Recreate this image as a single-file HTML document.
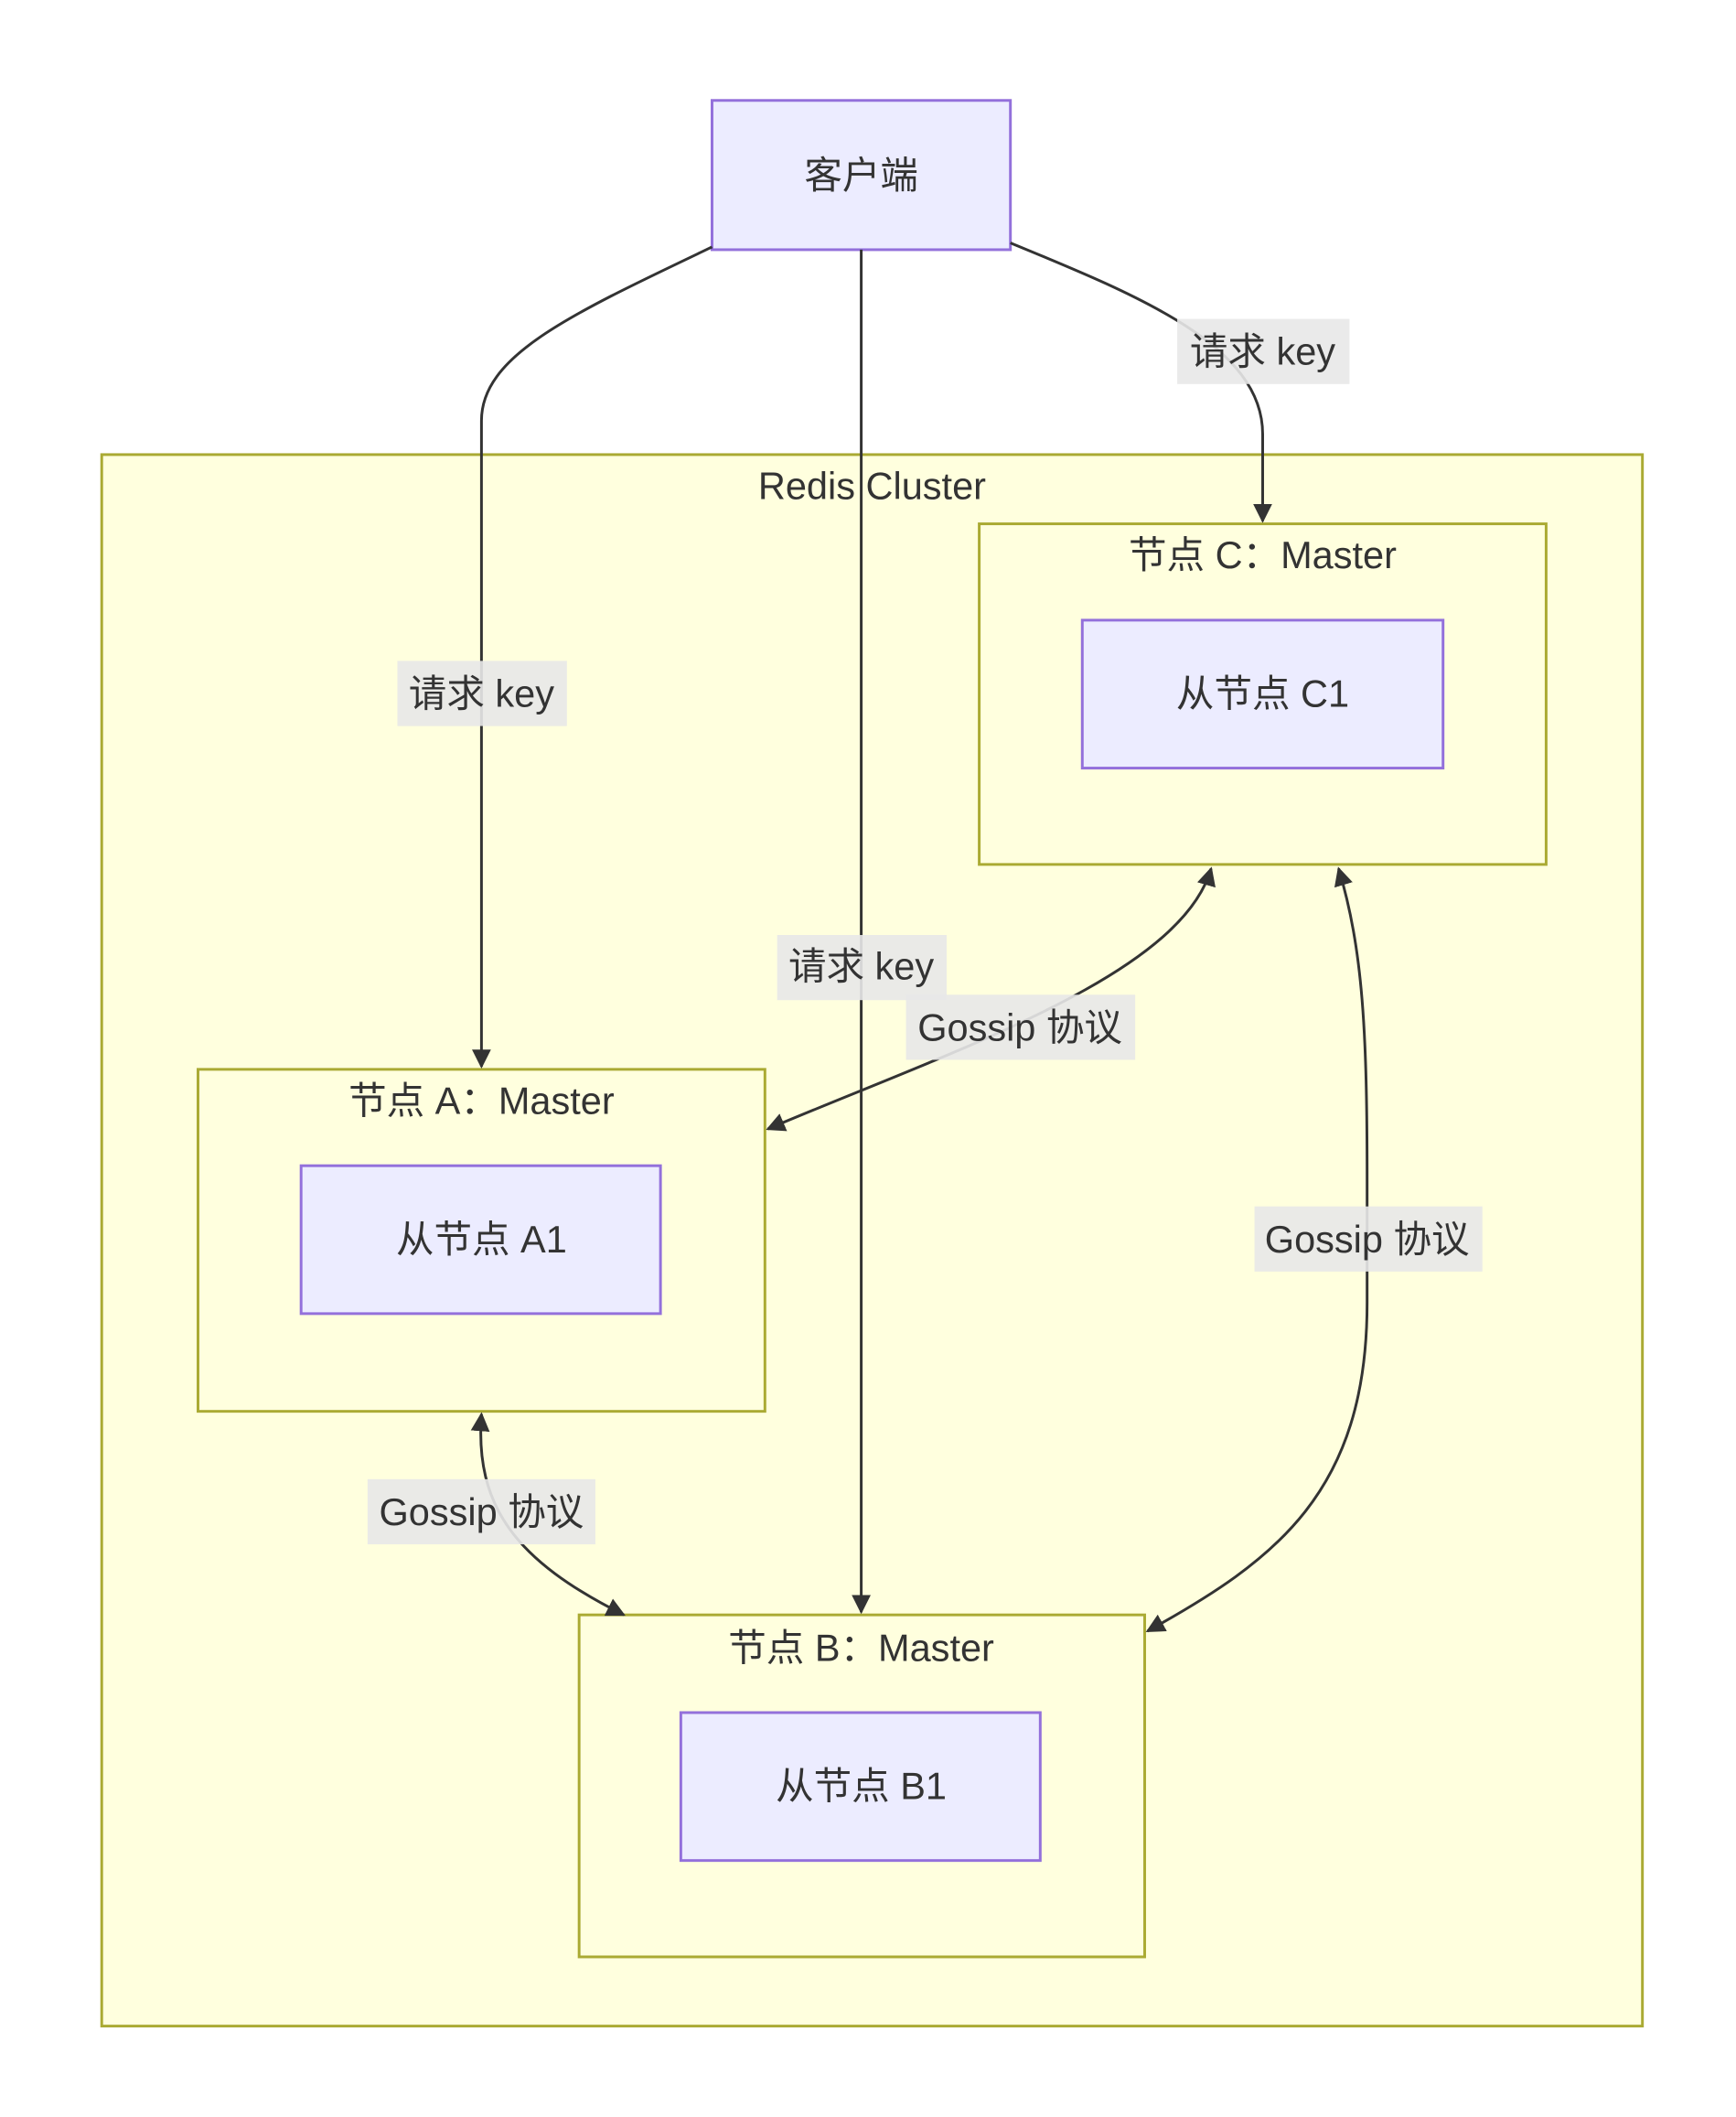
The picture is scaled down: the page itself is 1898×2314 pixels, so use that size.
<!DOCTYPE html>
<html><head><meta charset="utf-8"><style>
html,body{margin:0;padding:0;background:#fff;}
svg{display:block;}
text{font-family:"Liberation Sans","Noto Sans CJK SC",sans-serif;font-size:28px;fill:#333;text-anchor:middle;dominant-baseline:central;}
</style></head><body>
<svg width="1898" height="2314" viewBox="0 0 1280 1560" preserveAspectRatio="none" xmlns="http://www.w3.org/2000/svg">
<defs>
<marker id="ah" viewBox="0 0 10 10" refX="9" refY="5" markerWidth="8" markerHeight="8" orient="auto-start-reverse" markerUnits="userSpaceOnUse"><path d="M0,0 L10,5 L0,10 z" fill="#333"/></marker>
<marker id="a" viewBox="0 0 10 10" refX="9" refY="5" markerWidth="14" markerHeight="14" orient="auto-start-reverse" markerUnits="userSpaceOnUse"><path d="M0,0 L10,5 L0,10 z" fill="#333"/></marker>
</defs>
<rect x="75" y="335" width="1136" height="1158" fill="#ffffde" stroke="#aaaa33" stroke-width="2"/>
<text x="643" y="358">Redis Cluster</text>
<rect x="722" y="386" width="418" height="251" fill="#ffffde" stroke="#aaaa33" stroke-width="2"/>
<text x="931" y="409">节点 C：Master</text>
<rect x="146" y="788" width="418" height="252" fill="#ffffde" stroke="#aaaa33" stroke-width="2"/>
<text x="355" y="811">节点 A：Master</text>
<rect x="427" y="1190" width="417" height="252" fill="#ffffde" stroke="#aaaa33" stroke-width="2"/>
<text x="635" y="1214">节点 B：Master</text>
<rect x="525" y="74" width="220" height="110" fill="#ececff" stroke="#9370db" stroke-width="2"/>
<text x="635" y="129">客户端</text>
<rect x="798" y="457" width="266" height="109" fill="#ececff" stroke="#9370db" stroke-width="2"/>
<text x="931" y="511">从节点 C1</text>
<rect x="222" y="859" width="265" height="109" fill="#ececff" stroke="#9370db" stroke-width="2"/>
<text x="355" y="913">从节点 A1</text>
<rect x="502" y="1262" width="265" height="109" fill="#ececff" stroke="#9370db" stroke-width="2"/>
<text x="635" y="1316">从节点 B1</text>
<g fill="none" stroke="#333" stroke-width="2">
<path d="M525,182 C420,232 355,262 355,310 L355,786" marker-end="url(#a)"/>
<path d="M635,184 L635,1188" marker-end="url(#a)"/>
<path d="M745,179 C840,218 931,255 931,320 L931,384" marker-end="url(#a)"/>
<path d="M566,832 C700,775 870,720 893,640" marker-start="url(#a)" marker-end="url(#a)"/>
<path d="M987,640 C1005,700 1008,760 1008,870 L1008,960 C1008,1100 940,1150 846,1202" marker-start="url(#a)" marker-end="url(#a)"/>
<path d="M355,1042 C350,1110 380,1150 460,1190" marker-start="url(#a)" marker-end="url(#a)"/>
</g>
<rect x="293" y="487" width="125" height="48" fill="#e8e8e8" opacity="0.9"/>
<text x="355" y="511">请求 key</text>
<rect x="573" y="689" width="125" height="48" fill="#e8e8e8" opacity="0.9"/>
<text x="635" y="712">请求 key</text>
<rect x="868" y="235" width="127" height="48" fill="#e8e8e8" opacity="0.9"/>
<text x="931" y="259">请求 key</text>
<rect x="668" y="733" width="169" height="48" fill="#e8e8e8" opacity="0.9"/>
<text x="752" y="757">Gossip 协议</text>
<rect x="925" y="889" width="168" height="48" fill="#e8e8e8" opacity="0.9"/>
<text x="1008" y="913">Gossip 协议</text>
<rect x="271" y="1090" width="168" height="48" fill="#e8e8e8" opacity="0.9"/>
<text x="355" y="1114">Gossip 协议</text>
</svg>
</body></html>
